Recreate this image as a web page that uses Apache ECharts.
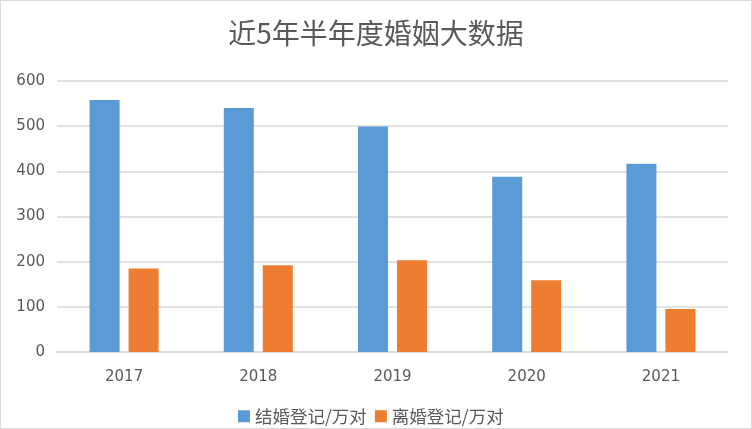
<!DOCTYPE html>
<html><head><meta charset="utf-8">
<script src="https://cdn.jsdelivr.net/npm/echarts@6/dist/echarts.min.js"></script>
<style>html,body{margin:0;padding:0;background:#fff}#c{width:752px;height:429px;box-sizing:border-box;border:1px solid #d9d9d9}</style>
</head><body><div id="c"></div>
<script>
var categories = ['2017','2018','2019','2020','2021'];
var marriage = [558, 540, 499, 388, 417];
var divorce = [185, 192, 203, 159, 95];
var seriesNames = ['结婚登记/万对','离婚登记/万对'];
var chart = echarts.init(document.getElementById('c'));
var font = '"Noto Sans CJK SC",sans-serif';
var numFont = '"DejaVu Sans",sans-serif';
chart.setOption({
  animation:false,
  title:{text:'近5年半年度婚姻大数据',left:'center',top:13,textStyle:{fontSize:28,fontWeight:'normal',color:'#595959',fontFamily:font}},
  legend:{bottom:-2,left:232,itemWidth:12,itemHeight:12,itemGap:8,icon:'rect',textStyle:{fontSize:17.5,color:'#595959',fontFamily:font}},
  grid:{left:56,right:23,top:80,bottom:76},
  xAxis:{type:'category',data:categories,axisLine:{lineStyle:{color:'#d9d9d9',width:1.5}},axisTick:{show:false},axisLabel:{fontSize:15,color:'#595959',margin:18,fontFamily:numFont}},
  yAxis:{type:'value',min:0,max:600,interval:100,axisLine:{show:false},axisTick:{show:false},splitLine:{lineStyle:{color:'#d9d9d9',width:1.5}},axisLabel:{fontSize:15,color:'#595959',margin:12,fontFamily:numFont}},
  series:[
    {name:seriesNames[0],type:'bar',data:marriage,barWidth:30,barGap:'30%',itemStyle:{color:'#5b9bd5'}},
    {name:seriesNames[1],type:'bar',data:divorce,barWidth:30,barGap:'30%',itemStyle:{color:'#ed7d31'}}
  ]
});
</script></body></html>
